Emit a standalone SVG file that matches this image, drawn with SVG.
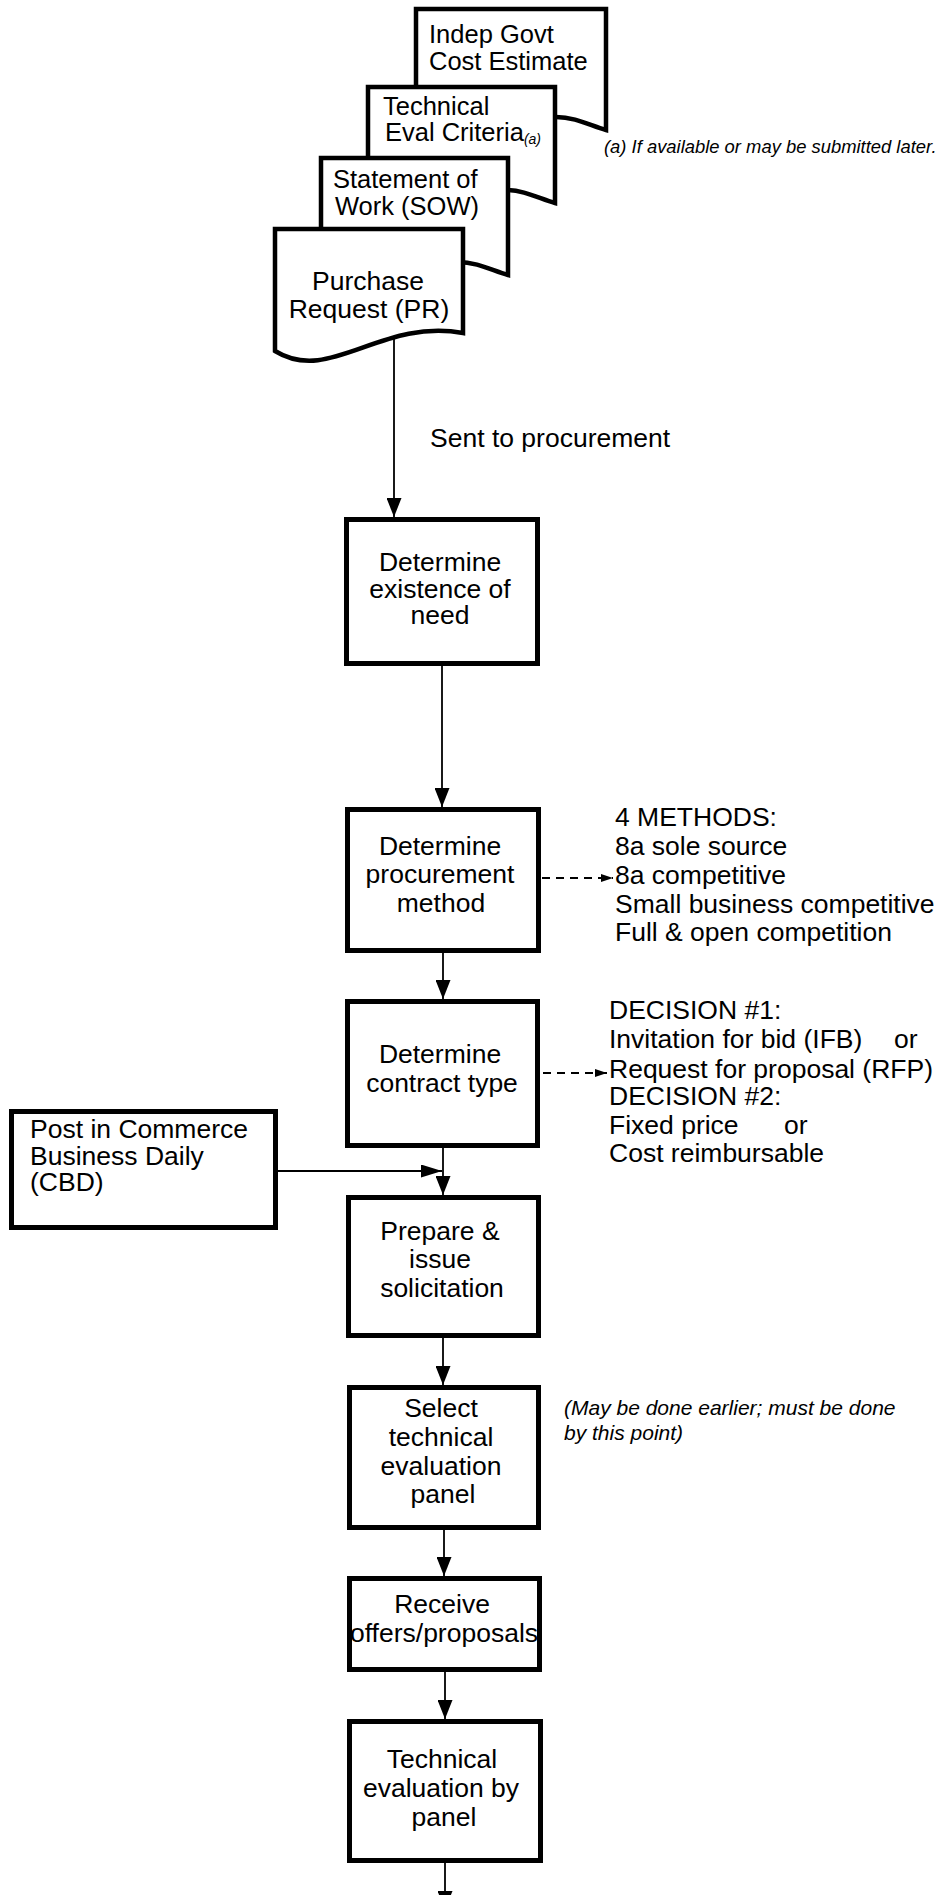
<svg xmlns="http://www.w3.org/2000/svg" width="945" height="1895" viewBox="0 0 945 1895">
<style>
.box{fill:#fff;stroke:#000;stroke-width:5}
.doc{fill:#fff;stroke:#000;stroke-width:4.5;stroke-linejoin:miter}
.t{font-family:"Liberation Sans",Arial,sans-serif;font-size:26.5px;fill:#000}
.d{font-size:25.5px}
.fn{font-size:18.4px;font-style:italic}
.nt{font-size:21px;font-style:italic}
.sub{font-size:14px;font-style:italic}
.c{text-anchor:middle}
.ln{stroke:#000;stroke-width:1.8;fill:none}
.dash{stroke-dasharray:8 6}
</style>
<defs>
<marker id="ah" viewBox="0 0 19 15" refX="19" refY="7.5" markerWidth="19" markerHeight="15" markerUnits="userSpaceOnUse" orient="auto"><path d="M0,0 L19,7.5 L0,15 Z" fill="#000"/></marker>
<marker id="ah2" viewBox="0 0 21 13" refX="21" refY="6.5" markerWidth="21" markerHeight="13" markerUnits="userSpaceOnUse" orient="auto"><path d="M0,0 L21,6.5 L0,13 Z" fill="#000"/></marker>
<marker id="ahs" viewBox="0 0 12 8" refX="12" refY="4" markerWidth="12" markerHeight="8" markerUnits="userSpaceOnUse" orient="auto"><path d="M0,0 L12,4 L0,8 Z" fill="#000"/></marker>
</defs>

<g id="doc-igce">
<path class="doc" d="M416,9 H606 V130 C591,126 576,117 556,117 C516,117 466,176 416,146 Z"/>
<text class="t d" x="429" y="43">Indep Govt</text>
<text class="t d" x="429" y="70">Cost Estimate</text>
</g>
<g id="doc-tec">
<path class="doc" d="M368,87 H555 V203 C540,199 525,190 505,190 C465,190 418,249 368,219 Z"/>
<text class="t d" x="383" y="115">Technical</text>
<text class="t d" x="385" y="141">Eval Criteria<tspan class="sub" dy="3">(a)</tspan></text>
</g>
<g id="doc-sow">
<path class="doc" d="M321,158 H508 V275 C493,271 478,262 458,262 C418,262 371,321 321,291 Z"/>
<text class="t d" x="333" y="188">Statement of</text>
<text class="t d" x="335" y="215">Work (SOW)</text>
</g>
<g id="doc-pr">
<path class="doc" d="M275,229 H463 V333 C380,318 330,385 275,351 Z"/>
<text class="t c" x="368" y="290">Purchase</text>
<text class="t c" x="369" y="318">Request (PR)</text>
</g>
<g id="footnote">
<text class="t fn" x="604" y="153">(a) If available or may be submitted later.</text>
</g>

<g id="connectors">
<path class="ln" d="M394,338 V517" marker-end="url(#ah)"/>
<path class="ln" d="M442,666 V807" marker-end="url(#ah)"/>
<path class="ln" d="M443,953 V999" marker-end="url(#ah)"/>
<path class="ln" d="M443,1148 V1195" marker-end="url(#ah)"/>
<path class="ln" d="M278,1171 H442" marker-end="url(#ah2)"/>
<path class="ln" d="M443,1338 V1385" marker-end="url(#ah)"/>
<path class="ln" d="M444,1530 V1576" marker-end="url(#ah)"/>
<path class="ln" d="M445,1672 V1719" marker-end="url(#ah)"/>
<path class="ln" d="M445,1863 V1910" marker-end="url(#ah)"/>
<path class="ln dash" d="M542,878 H613" marker-end="url(#ahs)"/>
<path class="ln dash" d="M543,1073 H607" marker-end="url(#ahs)"/>
<text class="t" x="430" y="447">Sent to procurement</text>
</g>

<g id="n-need">
<rect class="box" x="346.5" y="519.5" width="191" height="144"/>
<text class="t c" x="440" y="571">Determine</text>
<text class="t c" x="440" y="597.5">existence of</text>
<text class="t c" x="440" y="624">need</text>
</g>
<g id="n-method">
<rect class="box" x="347.5" y="809.5" width="191" height="141"/>
<text class="t c" x="440" y="855">Determine</text>
<text class="t c" x="440" y="883">procurement</text>
<text class="t c" x="441" y="911.5">method</text>
</g>
<g id="methods-note">
<text class="t" x="615" y="826">4 METHODS:</text>
<text class="t" x="615" y="855">8a sole source</text>
<text class="t" x="615" y="884">8a competitive</text>
<text class="t" x="615" y="912.5">Small business competitive</text>
<text class="t" x="615" y="941">Full &amp; open competition</text>
</g>
<g id="n-contract">
<rect class="box" x="347.5" y="1001.5" width="190" height="144"/>
<text class="t c" x="440" y="1063">Determine</text>
<text class="t c" x="442" y="1092">contract type</text>
</g>
<g id="decision-note">
<text class="t" x="609" y="1019">DECISION #1:</text>
<text class="t" x="609" y="1048">Invitation for bid (IFB)</text>
<text class="t" x="894" y="1048">or</text>
<text class="t" x="609" y="1078">Request for proposal (RFP)</text>
<text class="t" x="609" y="1105">DECISION #2:</text>
<text class="t" x="609" y="1134">Fixed price</text>
<text class="t" x="784" y="1134">or</text>
<text class="t" x="609" y="1162">Cost reimbursable</text>
</g>
<g id="n-cbd">
<rect class="box" x="11.5" y="1111.5" width="264" height="116"/>
<text class="t" x="30" y="1138">Post in Commerce</text>
<text class="t" x="30" y="1165">Business Daily</text>
<text class="t" x="30" y="1191">(CBD)</text>
</g>
<g id="n-solicit">
<rect class="box" x="348.5" y="1197.5" width="190" height="138"/>
<text class="t c" x="440" y="1240">Prepare &amp;</text>
<text class="t c" x="440" y="1268">issue</text>
<text class="t c" x="442" y="1296.5">solicitation</text>
</g>
<g id="n-panel">
<rect class="box" x="349.5" y="1387.5" width="189" height="140"/>
<text class="t c" x="441" y="1417">Select</text>
<text class="t c" x="441" y="1446">technical</text>
<text class="t c" x="441" y="1475">evaluation</text>
<text class="t c" x="443" y="1503">panel</text>
</g>
<g id="panel-note">
<text class="t nt" x="564" y="1415">(May be done earlier; must be done</text>
<text class="t nt" x="564" y="1440">by this point)</text>
</g>
<g id="n-receive">
<rect class="box" x="349.5" y="1578.5" width="190" height="91"/>
<text class="t c" x="442" y="1613">Receive</text>
<text class="t c" x="444" y="1641.5">offers/proposals</text>
</g>
<g id="n-techeval">
<rect class="box" x="349.5" y="1721.5" width="191" height="139"/>
<text class="t c" x="442" y="1768">Technical</text>
<text class="t c" x="441" y="1796.5">evaluation by</text>
<text class="t c" x="444" y="1825.5">panel</text>
</g>
</svg>
